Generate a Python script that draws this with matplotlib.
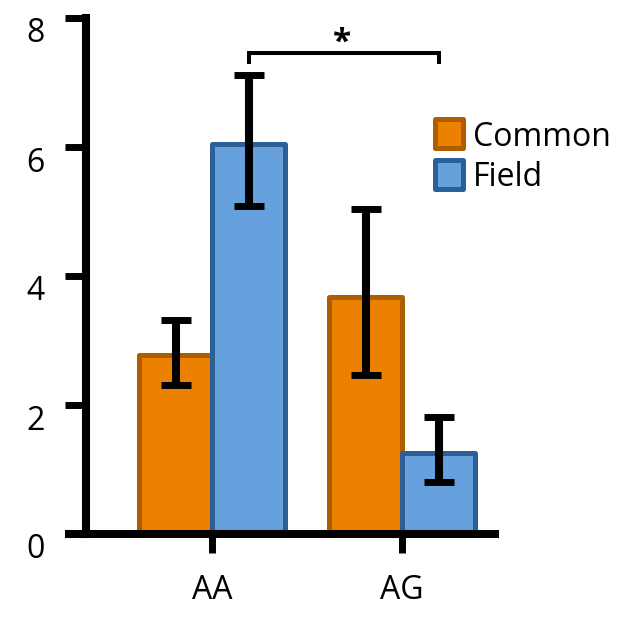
import matplotlib
matplotlib.use('Agg')
import matplotlib.pyplot as plt
import numpy as np
from matplotlib.transforms import ScaledTranslation
from matplotlib.patches import Rectangle

categories = ['AA', 'AG']
series = ['Common', 'Field']
common_vals = [2.78, 3.67]
field_vals = [6.04, 1.25]
common_lo = [2.31, 2.47]
common_hi = [3.32, 5.04]
field_lo = [5.09, 0.81]
field_hi = [7.12, 1.82]
yticks = [0, 2, 4, 6, 8]
sig_label = '*'

fill_colors = ['#EC8000', '#66A1DE']
edge_colors = ['#AE5D00', '#2B5F95']

plt.rcParams['font.family'] = ['Open Sans', 'DejaVu Sans']
FS = 23

W, H = 636, 619
fig = plt.figure(figsize=(W / 100, H / 100), dpi=100)
def fx(px):
    return px / W
def fy(py):
    return 1 - py / H

ax = fig.add_axes([fx(69), fy(534), (495 - 69) / W, (534 - 18) / H])
x = np.arange(len(categories))
w = 0.384

vals = [np.array(common_vals), np.array(field_vals)]
los = [np.array(common_lo), np.array(field_lo)]
his = [np.array(common_hi), np.array(field_hi)]
offsets = [-w / 2, w / 2]
for i in range(2):
    ax.bar(x + offsets[i], vals[i], w, color=fill_colors[i], edgecolor=edge_colors[i],
           linewidth=3.6, joinstyle='round', zorder=2)
for i in range(2):
    ax.errorbar(x + offsets[i], vals[i], yerr=[vals[i] - los[i], his[i] - vals[i]],
                fmt='none', ecolor='black', elinewidth=5.8, capsize=10.5, capthick=5, zorder=3)

ax.set_xlim(-0.753, 1.489)
ax.set_ylim(0, 8)
for s in ['top', 'right']:
    ax.spines[s].set_visible(False)
ax.spines['left'].set_position(('data', -0.663))
for s in ['left', 'bottom']:
    ax.spines[s].set_linewidth(5.8)
    ax.spines[s].set_capstyle('projecting')

ax.set_yticks(yticks)
ax.set_yticklabels([str(t) for t in yticks])
ax.tick_params(axis='y', length=15, width=5, direction='out', pad=15, labelsize=FS)
ax.set_xticks(x)
ax.set_xticklabels(categories)
ax.tick_params(axis='x', length=14, width=5, direction='out', pad=15, labelsize=FS)
for lbl in ax.get_yticklabels():
    lbl.set_transform(lbl.get_transform() + ScaledTranslation(0, -12 / 100, fig.dpi_scale_trans))

# significance bracket between Field bars
bx0 = x[0] + w / 2
bx1 = x[1] + w / 2
ax.plot([bx0, bx0, bx1, bx1], [7.32, 7.46, 7.46, 7.32], color='black', lw=2.9,
        solid_joinstyle='miter', zorder=4, clip_on=False)
ax.text((bx0 + bx1) / 2 - 0.01, 7.36, sig_label, ha='center', va='bottom', fontsize=24,
        fontweight='bold', color='black', clip_on=False)

# legend
leg_y = [119.5, 159.5]
for i in range(2):
    fig.patches.append(Rectangle((fx(434.5), fy(leg_y[i] + 29)), 28 / W, 29 / H,
                                 transform=fig.transFigure, facecolor=fill_colors[i],
                                 edgecolor=edge_colors[i], linewidth=3.6, joinstyle='round'))
    fig.text(fx(473), fy(leg_y[i] + 27), series[i], ha='left', va='baseline', fontsize=FS)

fig.savefig('out.png', dpi=100)
